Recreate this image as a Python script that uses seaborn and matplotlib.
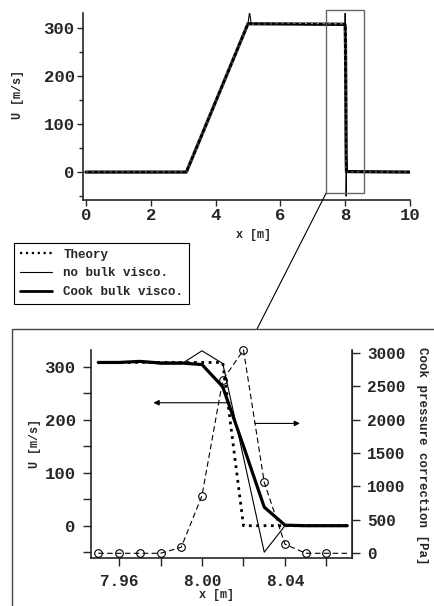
import numpy as np
import pandas as pd
import matplotlib
matplotlib.use("Agg")
import matplotlib.pyplot as plt
from matplotlib.patches import Rectangle, ConnectionPatch
from matplotlib.lines import Line2D
import seaborn as sns

# ---------------- data ----------------
# full domain (top panel)
theory_x_full = [0.0, 3.1, 5.0, 8.01, 8.02, 10.0]
theory_u_full = [0, 0, 308, 308, 0, 0]
nobulk_x_full = [0.0, 3.1, 5.0, 5.05, 5.1, 7.99, 8.00, 8.01, 8.02, 8.03, 8.04, 10.0]
nobulk_u_full = [0, 0, 308, 332, 308, 305, 330, 306, 129, -50, 0, 0]
cook_x_full = [0.0, 3.1, 5.0, 7.99, 8.00, 8.01, 8.02, 8.03, 8.04, 10.0]
cook_u_full = [0, 0, 308, 307, 304, 262, 150, 35, 1, 0]

# zoomed region (bottom panel)
x_zoom = [7.95, 7.96, 7.97, 7.98, 7.99, 8.00, 8.01, 8.02, 8.03, 8.04, 8.05, 8.06, 8.07]
theory_u = [308, 308, 308, 308, 308, 308, 308, 0, 0, 0, 0, 0, 0]
nobulk_u = [308, 308, 309, 305, 305, 330, 306, 129, -50, 0, 0, 0, 0]
cook_u = [308, 308, 310, 307, 307, 304, 262, 150, 35, 1, 0, 0, 0]
cook_p = [0, 0, 0, 0, 90, 862, 2591, 3040, 1062, 135, 0, 0, 0]

legend_labels = ["Theory", "no bulk visco.", "Cook bulk visco."]

# ---------------- style ----------------
sns.set_style("ticks")
plt.rcParams['font.family'] = ['Liberation Mono', 'DejaVu Sans']
plt.rcParams['font.weight'] = 'bold'
plt.rcParams['axes.labelweight'] = 'bold'

fig = plt.figure(figsize=(4.34, 6.06), dpi=100)

# ---------------- top panel ----------------
ax1 = fig.add_axes([83/434, 1-200/606, 327/434, 187.3/606])
df_t = pd.DataFrame({"x": theory_x_full, "u": theory_u_full})
df_n = pd.DataFrame({"x": nobulk_x_full, "u": nobulk_u_full})
df_c = pd.DataFrame({"x": cook_x_full, "u": cook_u_full})
sns.lineplot(data=df_c, x="x", y="u", ax=ax1, color="black", lw=2.3, zorder=3)
sns.lineplot(data=df_t, x="x", y="u", ax=ax1, color="#888888", lw=1.6, linestyle=":", zorder=4)
sns.lineplot(data=df_n, x="x", y="u", ax=ax1, color="black", lw=0.8, zorder=5)
ax1.set_xlim(-0.09, 10.0)
ax1.set_ylim(-58, 331)
ax1.set_xticks([0, 2, 4, 6, 8, 10])
ax1.set_yticks([0, 100, 200, 300])
ax1.set_yticks([-50, 50, 150, 250], minor=True)
ax1.tick_params(axis='both', which='major', direction='out', length=4, width=1, labelsize=12.5, pad=2)
ax1.tick_params(axis='y', which='minor', direction='out', length=3, width=1)
ax1.set_xlabel("x [m]", fontsize=8.5)
ax1.set_ylabel("U [m/s]", fontsize=8.5)
ax1.xaxis.set_label_coords(0.52, -0.187)
ax1.xaxis.label.set_va('center')
ax1.yaxis.set_label_coords(-0.199, 0.561)
ax1.yaxis.label.set_va('center')
for s in ["top", "right"]:
    ax1.spines[s].set_visible(False)
for s in ["left", "bottom"]:
    ax1.spines[s].set_linewidth(1.2)

# zoom rectangle
rx0, rx1, ry0, ry1 = 7.41, 8.58, -44, 337
ax1.add_patch(Rectangle((rx0, ry0), rx1-rx0, ry1-ry0, fill=False, edgecolor="#666666",
                        lw=1.0, clip_on=False, zorder=6))

# ---------------- bottom panel ----------------
ax2 = fig.add_axes([91/434, 1-558.3/606, 261/434, 208.3/606])
ax3 = ax2.twinx()
df_zt = pd.DataFrame({"x": x_zoom, "u": theory_u})
df_zn = pd.DataFrame({"x": x_zoom, "u": nobulk_u})
df_zc = pd.DataFrame({"x": x_zoom, "u": cook_u})
df_zp = pd.DataFrame({"x": x_zoom, "p": cook_p})
sns.lineplot(data=df_zn, x="x", y="u", ax=ax2, color="black", lw=0.8, zorder=3)
sns.lineplot(data=df_zt, x="x", y="u", ax=ax2, color="black", lw=2.0, linestyle=":", zorder=4)
sns.lineplot(data=df_zc, x="x", y="u", ax=ax2, color="black", lw=2.3, zorder=5)
sns.lineplot(data=df_zp, x="x", y="p", ax=ax3, color="black", lw=0.8, linestyle=(0, (5, 3)),
             marker="o", markersize=5.5, markerfacecolor="none", markeredgecolor="black",
             markeredgewidth=0.8, markevery=list(range(len(x_zoom)-1)), clip_on=False)

ax2.set_xlim(7.9465, 8.0723)
ax2.set_ylim(-61.5, 331.5)
ax3.set_ylim(-75, 3040)
ax2.set_xticks([7.96, 8.00, 8.04])
ax2.set_xticklabels(["7.96", "8.00", "8.04"])
ax2.set_xticks([7.98, 8.02, 8.06], minor=True)
ax2.set_yticks([0, 100, 200, 300])
ax2.set_yticks([-50, 50, 150, 250], minor=True)
ax3.set_yticks([0, 500, 1000, 1500, 2000, 2500, 3000])
ax2.tick_params(axis='both', which='both', direction='out', length=6, width=1, labelsize=11.5, pad=5)
ax2.tick_params(axis='y', which='major', labelsize=12.5)
ax3.tick_params(axis='y', which='major', direction='out', length=6, width=1, labelsize=11.5, pad=5)
ax2.set_xlabel("x [m]", fontsize=8.5)
ax2.set_ylabel("U [m/s]", fontsize=8.5)
ax3.set_ylabel("Cook pressure correction [Pa]", fontsize=9, rotation=-90)
ax2.xaxis.set_label_coords(0.479, -0.176)
ax2.xaxis.label.set_va('center')
ax2.yaxis.set_label_coords(-0.2146, 0.553)
ax2.yaxis.label.set_va('center')
ax3.yaxis.set_label_coords(1.267, 0.4935)
ax3.yaxis.label.set_va('center')
ax2.spines["top"].set_visible(False)
ax3.spines["top"].set_visible(False)
for s in ["left", "bottom"]:
    ax2.spines[s].set_linewidth(1.2)
ax3.spines["right"].set_linewidth(1.2)
ax3.spines["left"].set_visible(False)
ax3.spines["bottom"].set_visible(False)

# arrows
ax2.annotate("", xy=(7.9766, 232), xytext=(8.0135, 232),
             arrowprops=dict(arrowstyle="-|>", color="black", lw=0.8, mutation_scale=8,
                             shrinkA=0, shrinkB=0))
ax2.annotate("", xy=(8.0472, 193), xytext=(8.0255, 193),
             arrowprops=dict(arrowstyle="-|>", color="black", lw=0.8, mutation_scale=8,
                             shrinkA=0, shrinkB=0))

# inset frame
fig.patches.append(Rectangle((12/434, -0.2), 1.2, 0.2 + (1-329/606), transform=fig.transFigure,
                             fill=False, edgecolor="#444444", lw=1.0, figure=fig))
con = ConnectionPatch(xyA=(rx0, ry0), coordsA=ax1.transData,
                      xyB=(257/434, 1-329/606), coordsB=fig.transFigure,
                      color="black", lw=0.8)
fig.add_artist(con)

# legend
handles = [Line2D([], [], color="black", lw=1.6, linestyle=":"),
           Line2D([], [], color="black", lw=0.8),
           Line2D([], [], color="black", lw=2.0)]
leg = fig.legend(handles, legend_labels, loc="upper left",
                 bbox_to_anchor=(14/434, 1-243/606), bbox_transform=fig.transFigure,
                 frameon=True, fancybox=False, edgecolor="black", framealpha=1,
                 borderaxespad=0, handlelength=2.6, handletextpad=0.9,
                 labelspacing=0.55, borderpad=0.45, prop={'weight': 'bold', 'size': 9})
leg.get_frame().set_linewidth(0.8)

fig.savefig("out.png", dpi=100)
